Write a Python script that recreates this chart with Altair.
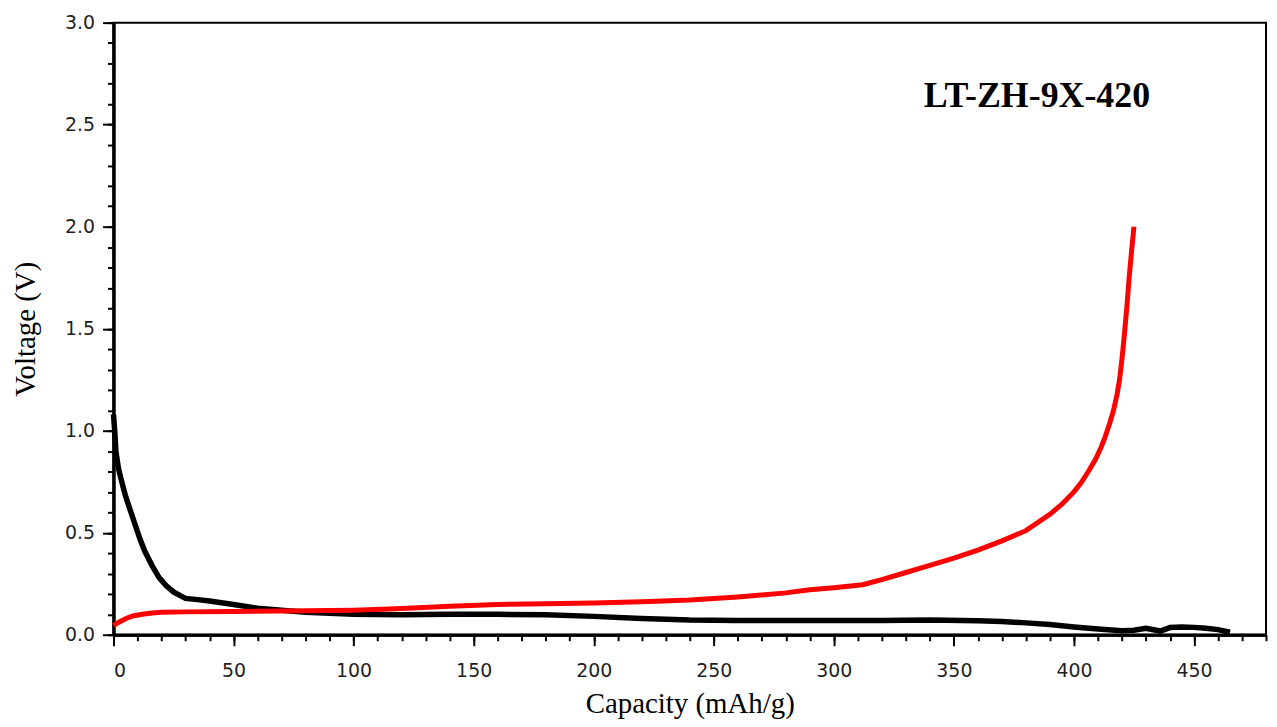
import altair as alt
import pandas as pd

# Discharge (black) curve: capacity (mAh/g) and voltage (V)
discharge_cap = [0, 0.5, 1, 2, 3, 5, 7, 9, 11, 13, 16, 19, 22, 25, 28, 30, 35, 40, 50, 60,
                 70, 80, 90, 100, 120, 140, 160, 180, 200, 220, 240, 260, 280, 300, 320,
                 340, 360, 370, 380, 390, 400, 410, 420, 425, 430, 436, 440, 445, 450,
                 455, 460, 465]
discharge_v = [1.08, 1.0, 0.9, 0.82, 0.77, 0.68, 0.61, 0.54, 0.47, 0.41, 0.34, 0.28, 0.24,
               0.21, 0.19, 0.178, 0.172, 0.165, 0.148, 0.13, 0.12, 0.11, 0.105, 0.1, 0.098,
               0.1, 0.1, 0.098, 0.09, 0.08, 0.072, 0.07, 0.07, 0.07, 0.07, 0.072, 0.068,
               0.065, 0.058, 0.05, 0.038, 0.028, 0.02, 0.022, 0.032, 0.018, 0.035, 0.038,
               0.036, 0.032, 0.025, 0.012]

# Charge (red) curve
charge_cap = [0, 2, 5, 8, 12, 16, 20, 30, 50, 80, 100, 120, 140, 160, 180, 200, 220, 240,
              260, 280, 290, 300, 312, 320, 330, 340, 350, 360, 370, 380, 390, 395, 400,
              403, 406, 409, 411, 413, 415, 416.5, 418, 419, 420, 421, 422, 423, 424, 425]
charge_v = [0.045, 0.06, 0.078, 0.092, 0.1, 0.106, 0.11, 0.112, 0.114, 0.117, 0.12, 0.128,
            0.14, 0.148, 0.152, 0.156, 0.162, 0.17, 0.185, 0.205, 0.22, 0.23, 0.245, 0.27,
            0.305, 0.34, 0.375, 0.415, 0.46, 0.51, 0.59, 0.64, 0.70, 0.745, 0.8, 0.86,
            0.91, 0.97, 1.04, 1.1, 1.18, 1.25, 1.35, 1.47, 1.6, 1.75, 1.88, 2.0]

x_major = [0, 50, 100, 150, 200, 250, 300, 350, 400, 450]
x_minor = [0, 10, 20, 30, 40, 50, 60, 70, 80, 90, 100, 110, 120, 130, 140, 150, 160, 170,
           180, 190, 200, 210, 220, 230, 240, 250, 260, 270, 280, 290, 300, 310, 320, 330,
           340, 350, 360, 370, 380, 390, 400, 410, 420, 430, 440, 450, 460, 470, 480]
y_major = [0.0, 0.5, 1.0, 1.5, 2.0, 2.5, 3.0]
y_minor = [0.0, 0.1, 0.2, 0.3, 0.4, 0.5, 0.6, 0.7, 0.8, 0.9, 1.0, 1.1, 1.2, 1.3, 1.4, 1.5,
           1.6, 1.7, 1.8, 1.9, 2.0, 2.1, 2.2, 2.3, 2.4, 2.5, 2.6, 2.7, 2.8, 2.9, 3.0]

label_text = "LT-ZH-9X-420"
label_pos = (384.6, 2.64)

df_dis = pd.DataFrame({"cap": discharge_cap, "v": discharge_v})
df_chg = pd.DataFrame({"cap": charge_cap, "v": charge_v})

xs = alt.Scale(domain=[0, 480], nice=False, zero=False)
ys = alt.Scale(domain=[0, 3], nice=False, zero=False)

minor_x_axis = alt.Axis(values=x_minor, labels=False, title=None, tickSize=6,
                        orient="bottom", grid=False)
minor_y_axis = alt.Axis(values=y_minor, labels=False, title=None, tickSize=6,
                        orient="left", grid=False)
major_x_axis = alt.Axis(values=x_major, format="d", tickSize=11, labelPadding=16,
                        title="Capacity (mAh/g)", titlePadding=9, orient="bottom", grid=False)
major_y_axis = alt.Axis(values=y_major, format=".1f", tickSize=11, labelPadding=8,
                        title="Voltage (V)", titlePadding=24, orient="left", grid=False)

black = alt.Chart(df_dis).mark_line(color="black", strokeWidth=5.5).encode(
    x=alt.X("cap:Q", scale=xs, axis=minor_x_axis),
    y=alt.Y("v:Q", scale=ys, axis=minor_y_axis),
)

red = alt.Chart(df_chg).mark_line(color="#ff0000", strokeWidth=5).encode(
    x=alt.X("cap:Q", scale=xs, axis=major_x_axis),
    y=alt.Y("v:Q", scale=ys, axis=major_y_axis),
)

label = alt.Chart(pd.DataFrame({"cap": [label_pos[0]], "v": [label_pos[1]], "t": [label_text]})).mark_text(
    font="Liberation Serif", fontSize=36, fontWeight="bold", color="black",
    align="center", baseline="middle"
).encode(
    x=alt.X("cap:Q", scale=xs, axis=None),
    y=alt.Y("v:Q", scale=ys, axis=None),
    text="t:N",
)

chart = alt.layer(black, red, label).resolve_axis(x="independent", y="independent").properties(
    width=1158, height=615,
    autosize=alt.AutoSizeParams(type="none"),
    padding={"left": 106, "top": 13, "right": 3, "bottom": 90},
).configure_view(
    stroke="black", strokeWidth=2
).configure_axis(
    labelFont="DejaVu Sans", labelFontSize=19, labelColor="#1f1f1f",
    domainColor="black", domainWidth=3, tickColor="black", tickWidth=2,
    titleFont="Liberation Serif", titleFontSize=29, titleFontWeight="normal",
    titleColor="black",
)

chart.save("out.html", embed_options={"renderer": "svg", "actions": False})
